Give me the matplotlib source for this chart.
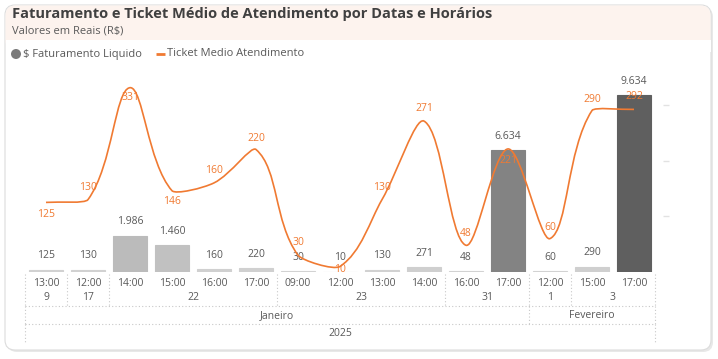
import numpy as np
import matplotlib
matplotlib.use("Agg")
import matplotlib.pyplot as plt
from matplotlib.path import Path
from matplotlib.patches import PathPatch, FancyBboxPatch, Rectangle, Circle
from matplotlib.colors import LinearSegmentedColormap
from matplotlib.transforms import blended_transform_factory

plt.rcParams['font.family'] = ['Open Sans', 'DejaVu Sans']

# Dados
horas = ['13:00', '12:00', '14:00', '15:00', '16:00', '17:00', '09:00', '12:00',
         '13:00', '14:00', '16:00', '17:00', '12:00', '15:00', '17:00']
dias = ['9', '17', '22', '23', '31', '1', '3']
dias_n = [1, 1, 4, 4, 2, 1, 2]
meses = ['Janeiro', 'Fevereiro']
meses_n = [12, 3]
anos = ['2025']
anos_n = [15]
faturamento = [125, 130, 1986, 1460, 160, 220, 30, 10, 130, 271, 48, 6634, 60, 290, 9634]
ticket = [125, 130, 331, 146, 160, 220, 30, 10, 130, 271, 48, 221, 60, 290, 292]

laranja = '#F07A32'
cinza_txt = '#595959'

W, H = 718, 359
fig = plt.figure(figsize=(W / 100, H / 100), dpi=100)

# fundo / cartão
bg = fig.add_axes([0, 0, 1, 1])
bg.set_xlim(0, W)
bg.set_ylim(H, 0)
bg.axis('off')
bg.add_patch(FancyBboxPatch((7, 7), 706, 345, boxstyle='round,pad=0,rounding_size=10',
                            fc='#e8e8e8', ec='none'))
bg.add_patch(FancyBboxPatch((5, 5), 706, 345, boxstyle='round,pad=0,rounding_size=10',
                            fc='white', ec='#dcdcdc', lw=0.8))
bg.add_patch(FancyBboxPatch((5.5, 5.5), 705, 45, boxstyle='round,pad=0,rounding_size=10',
                            fc='#fdf3ee', ec='none'))
bg.add_patch(Rectangle((5.5, 40), 705, 12, fc='white', ec='none'))
bg.text(12, 14, 'Faturamento e Ticket Médio de Atendimento por Datas e Horários',
        fontsize=10.5, fontweight='bold', color='#404040', va='center', ha='left')
bg.text(12, 31, 'Valores em Reais (R$)', fontsize=8, color=cinza_txt, va='center')
bg.add_patch(Circle((16, 54), 5, fc='#7a7a7a', ec='none'))
bg.text(23, 54, '$ Faturamento Liquido', fontsize=8, color=cinza_txt, va='center')
bg.plot([156, 165], [54, 54], color=laranja, lw=2, solid_capstyle='butt')
bg.text(167, 54, 'Ticket Medio Atendimento', fontsize=8, color=cinza_txt, va='center')

# eixo principal
ax = fig.add_axes([25 / W, 1 - 272 / H, 630 / W, 192 / H])
ax.patch.set_alpha(0)
x = np.arange(len(horas))
cmap = LinearSegmentedColormap.from_list('g', ['#d2d2d2', '#5f5f5f'])
cores = [cmap(v / max(faturamento)) for v in faturamento]
ax.bar(x, faturamento, width=0.8, color=cores, edgecolor=cores, linewidth=0.8)
ax.set_xlim(-0.5, len(horas) - 0.5)
ax.set_ylim(0, 10451)
for s in ax.spines.values():
    s.set_visible(False)
ax.set_xticks([])
ax.set_yticks([])
for xi, v in zip(x, faturamento):
    ax.annotate(f'{v:,}'.replace(',', '.'), (xi, v), xytext=(0, 10), textcoords='offset points',
                ha='center', va='center', fontsize=7.5, color=cinza_txt)

# linha suavizada (eixo secundário)
ax2 = ax.twinx()
ax2.set_ylim(0, 344.8)
ax2.set_xlim(-0.5, len(horas) - 0.5)
for s in ax2.spines.values():
    s.set_visible(False)
ax2.spines['right'].set_position(('outward', 6))
ax2.set_yticks([100, 200, 300])
ax2.tick_params(axis='y', right=True, length=4, width=1, color='#e2e2e2', labelright=False)

# suavização tipo Excel (pesos pela distância em pixels)
esc = np.array([42.0, 1 / 1.796])
pts = np.column_stack([x, ticket]).astype(float) * esc
verts = [tuple(pts[0])]
codes = [Path.MOVETO]
n = len(pts)
for i in range(n - 1):
    p0 = pts[max(i - 1, 0)]
    p1 = pts[i]
    p2 = pts[i + 1]
    p3 = pts[min(i + 2, n - 1)]
    d01 = np.sum((p1 - p0) ** 2)
    d12 = np.sum((p2 - p1) ** 2)
    d23 = np.sum((p3 - p2) ** 2)
    f1 = d12 / (d01 + d12) / 3
    f2 = d12 / (d12 + d23) / 3
    c1 = p1 + (p2 - p0) * f1
    c2 = p2 - (p3 - p1) * f2
    verts += [tuple(c1), tuple(c2), tuple(p2)]
    codes += [Path.CURVE4] * 3
verts = [tuple(np.array(v) / esc) for v in verts]
ax2.add_patch(PathPatch(Path(verts, codes), fc='none', ec=laranja, lw=1.2, clip_on=False))
desloc = [-9, 9, -7, -8, 9, 8, 9, -2, 9, 9, 8.5, -8.5, 8, 8, 9]
for xi, v, d in zip(x, ticket, desloc):
    ax2.annotate(str(v), (xi, v), xytext=(0, d), textcoords='offset points',
                 ha='center', va='center', fontsize=7.5, color=laranja)

# rótulos hierárquicos do eixo x
tr = blended_transform_factory(ax.transData, fig.transFigure)
def fy(py):
    return 1 - py / H
sep = dict(color='#c8c8c8', lw=0.8, ls=(0, (1, 2)), transform=tr, clip_on=False)
for xi, h in zip(x, horas):
    ax.text(xi, fy(284), h, ha='center', va='center', fontsize=7.5, color=cinza_txt, transform=tr)

def grupo(nomes, contagens, py, y0, y1):
    ini = -0.5
    ax.plot([ini, ini], [fy(y0), fy(y1)], **sep)
    for nome, c in zip(nomes, contagens):
        fim = ini + c
        ax.text((ini + fim) / 2, fy(py), nome, ha='center', va='center', fontsize=7.5,
                color=cinza_txt, transform=tr)
        ax.plot([fim, fim], [fy(y0), fy(y1)], **sep)
        ini = fim

grupo(dias, dias_n, 298, 274, 306)
ax.plot([-0.5, len(horas) - 0.5], [fy(306), fy(306)], **sep)
grupo(meses, meses_n, 316, 306, 324)
ax.plot([-0.5, len(horas) - 0.5], [fy(324), fy(324)], **sep)
grupo(anos, anos_n, 334, 324, 343)

fig.savefig('out.png', dpi=100)
